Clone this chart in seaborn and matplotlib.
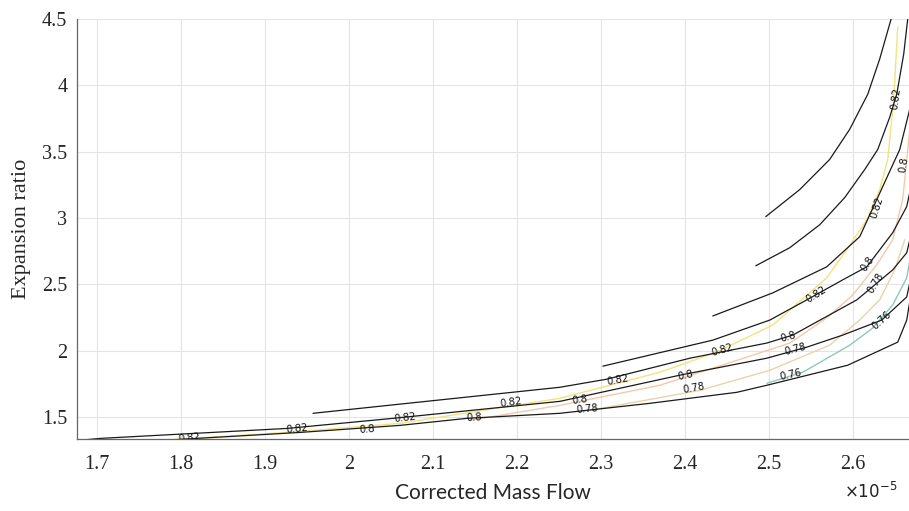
import numpy as np
import pandas as pd
import matplotlib
matplotlib.use('Agg')
import matplotlib.pyplot as plt
import seaborn as sns

# speed lines (corrected mass flow x1e-5, expansion ratio)
line1_x = [1.775, 1.9417, 2.0607, 2.1405, 2.2512, 2.3583, 2.4619, 2.4976, 2.594, 2.6536, 2.6643, 2.6702]
line1_y = [1.325, 1.386, 1.439, 1.492, 1.53, 1.605, 1.688, 1.741, 1.892, 2.066, 2.232, 2.459]
line2_x = [1.6762, 1.7036, 1.9262, 2.0524, 2.2512, 2.394, 2.4976, 2.5452, 2.5881, 2.6345, 2.6643, 2.6738]
line2_y = [1.325, 1.341, 1.416, 1.492, 1.62, 1.817, 1.945, 2.028, 2.119, 2.232, 2.406, 2.686]
line3_x = [1.9571, 2.2512, 2.3071, 2.406, 2.4976, 2.5286, 2.6048, 2.6476, 2.6643, 2.6738]
line3_y = [1.53, 1.726, 1.787, 1.945, 2.059, 2.119, 2.384, 2.61, 2.739, 2.988]
line4_x = [2.3024, 2.4333, 2.5012, 2.5452, 2.5881, 2.6167, 2.6476, 2.6643, 2.6738]
line4_y = [1.885, 2.081, 2.232, 2.384, 2.535, 2.633, 2.89, 3.087, 3.366]
line5_x = [2.4333, 2.5048, 2.569, 2.6083, 2.6286, 2.656, 2.6679]
line5_y = [2.263, 2.437, 2.633, 2.86, 3.139, 3.517, 3.82]
line6_x = [2.4845, 2.525, 2.5607, 2.5905, 2.6143, 2.6298, 2.644, 2.6524, 2.6607, 2.6655]
line6_y = [2.641, 2.777, 2.95, 3.155, 3.366, 3.517, 3.759, 3.933, 4.235, 4.5]
line7_x = [2.4964, 2.5369, 2.5726, 2.5964, 2.6179, 2.6321, 2.6464]
line7_y = [3.011, 3.215, 3.442, 3.669, 3.933, 4.198, 4.515]

# efficiency contours
eff_levels = ['0.82', '0.8', '0.78', '0.76']
eff_colors = ['#f6e27c', '#f5c9a6', '#ead3a8', '#8ec8bc']
c082_x = [1.7714, 1.9262, 2.0607, 2.2512, 2.3702, 2.4381, 2.5048, 2.569, 2.5929, 2.6167, 2.6321, 2.6417, 2.6488, 2.6536]
c082_y = [1.325, 1.386, 1.454, 1.643, 1.839, 1.991, 2.195, 2.55, 2.762, 2.988, 3.215, 3.442, 3.895, 4.44]
c080_x = [2.144, 2.2512, 2.3702, 2.4738, 2.525, 2.569, 2.6, 2.6286, 2.6476, 2.6595, 2.6655, 2.6702]
c080_y = [1.477, 1.59, 1.741, 1.953, 2.059, 2.248, 2.421, 2.648, 2.837, 3.139, 3.517, 3.82]
c078_x = [2.2869, 2.4179, 2.5012, 2.5726, 2.6083, 2.6321, 2.65, 2.6619]
c078_y = [1.552, 1.703, 1.854, 2.043, 2.232, 2.384, 2.61, 2.837]
c076_x = [2.4976, 2.5405, 2.5964, 2.6238, 2.6476, 2.6643, 2.6702]
c076_y = [1.756, 1.839, 2.043, 2.172, 2.346, 2.55, 2.762]

# contour labels
lab_text = ['0.82', '0.82', '0.8', '0.82', '0.8', '0.82', '0.82', '0.8', '0.78', '0.8', '0.78',
            '0.82', '0.8', '0.78', '0.76', '0.82', '0.8', '0.78', '0.76', '0.82', '0.82', '0.8']
lab_x = [1.8095, 1.9381, 2.0214, 2.0667, 2.1488, 2.1929, 2.3202, 2.275, 2.2833, 2.4012, 2.4107,
         2.444, 2.5226, 2.531, 2.5262, 2.556, 2.6179, 2.6274, 2.6345, 2.6286, 2.6512, 2.6607]
lab_y = [1.341, 1.416, 1.409, 1.492, 1.5, 1.613, 1.779, 1.628, 1.56, 1.817, 1.718,
         2.006, 2.104, 2.013, 1.824, 2.421, 2.656, 2.512, 2.232, 3.079, 3.903, 3.404]
lab_rot = [5, 6, 4, 6, 3, 8, 10, 8, 5, 12, 10,
           16, 16, 15, 12, 32, 55, 58, 42, 72, 82, 80]

speed = [(line1_x, line1_y), (line2_x, line2_y), (line3_x, line3_y), (line4_x, line4_y),
         (line5_x, line5_y), (line6_x, line6_y), (line7_x, line7_y)]
df = pd.concat([pd.DataFrame({'flow': x, 'ratio': y, 'line': i}) for i, (x, y) in enumerate(speed)])

eff = [(c082_x, c082_y), (c080_x, c080_y), (c078_x, c078_y), (c076_x, c076_y)]
ef = pd.concat([pd.DataFrame({'flow': x, 'ratio': y, 'eff': eff_levels[i]}) for i, (x, y) in enumerate(eff)])

sns.set_theme(style='white')
fig = plt.figure(figsize=(9.09, 5.11), dpi=100)
ax = fig.add_axes([0.0847, 0.140, 0.9153, 0.823])

sns.lineplot(data=ef, x='flow', y='ratio', hue='eff', palette=dict(zip(eff_levels, eff_colors)),
             units='eff', estimator=None, sort=False, lw=1.0, legend=False, ax=ax)
sns.lineplot(data=df, x='flow', y='ratio', units='line', estimator=None, sort=False,
             color='#1a1a1a', lw=0.9, ax=ax)

for t, x, y, r in zip(lab_text, lab_x, lab_y, lab_rot):
    ax.text(x, y, t, fontsize=7.2, rotation=r, ha='center', va='center', color='#111',
            family='DejaVu Sans', rotation_mode='anchor', clip_on=True)

ax.set_xlim(1.676, 2.667)
ax.set_ylim(1.333, 4.5)
xt = [1.7, 1.8, 1.9, 2.0, 2.1, 2.2, 2.3, 2.4, 2.5, 2.6]
yt = [1.5, 2, 2.5, 3, 3.5, 4, 4.5]
ax.set_xticks(xt)
ax.set_xticklabels(['%g' % v for v in xt], family='Liberation Serif', fontsize=14.5)
ax.set_yticks(yt)
ax.set_yticklabels(['%g' % v for v in yt], family='Liberation Serif', fontsize=14.5)
ax.tick_params(direction='in', length=5, width=0.8, color='#444')
ax.tick_params(axis='x', pad=11)
ax.tick_params(axis='y', pad=7)
ax.grid(True, color='#e4e4e4', lw=0.8)
for s in ['top', 'right']:
    ax.spines[s].set_visible(False)
for s in ['left', 'bottom']:
    ax.spines[s].set_color('#666')
    ax.spines[s].set_linewidth(0.9)

ax.set_xlabel('Corrected Mass Flow', family='Lato', fontsize=15, labelpad=7)
ax.set_ylabel('Expansion ratio', family='Liberation Serif', fontsize=16, labelpad=8)
fig.text(0.928, 0.025, r'$\times10^{-5}$', fontsize=12, color='#222')

fig.savefig('out.png', dpi=100)
